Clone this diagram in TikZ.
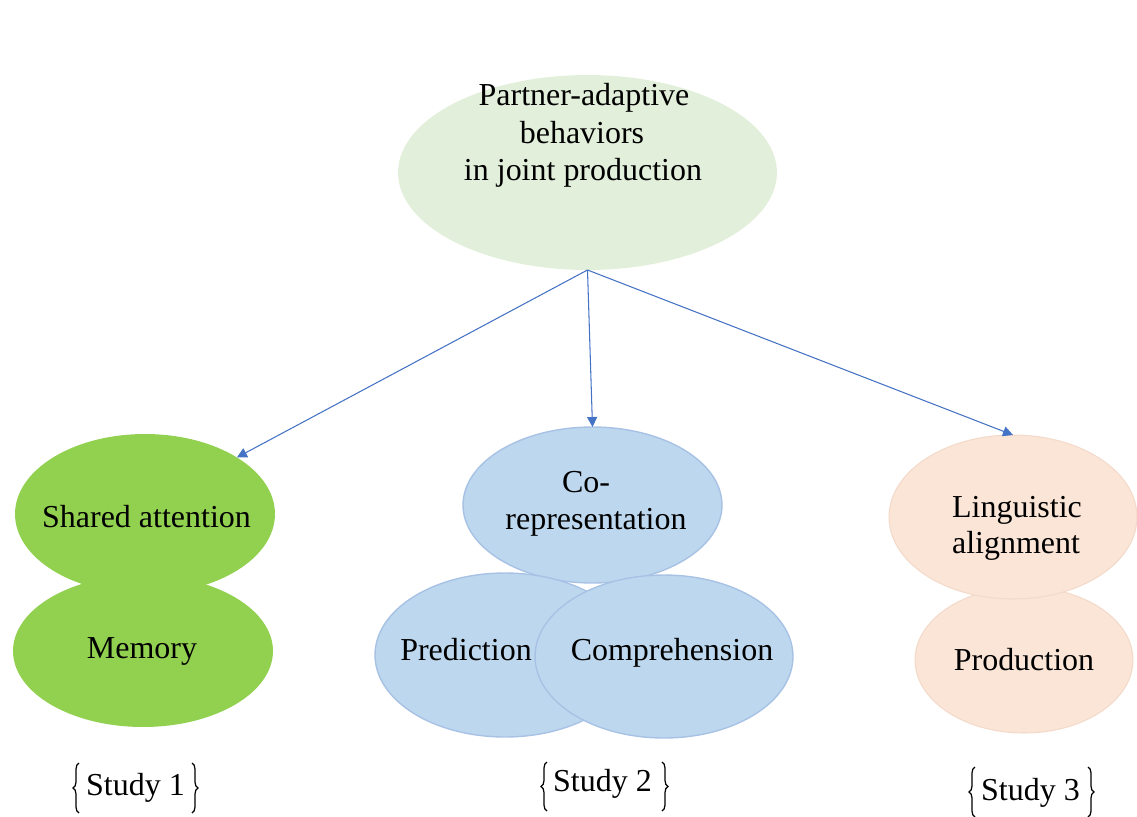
\documentclass[tikz,border=0pt]{standalone}
\usepackage{fontspec}
\setmainfont{Liberation Serif}
\usetikzlibrary{shapes.geometric,arrows.meta,decorations.pathreplacing}
\definecolor{topgreen}{HTML}{E2EFDA}
\definecolor{leafgreen}{HTML}{92D050}
\definecolor{skyblue}{HTML}{BDD7EE}
\definecolor{skyedge}{HTML}{A8C2E5}
\definecolor{peach}{HTML}{FBE5D6}
\definecolor{peachedge}{HTML}{F3DACA}
\definecolor{arrowblue}{HTML}{4472C4}
\begin{document}
\begin{tikzpicture}[x=0.02cm,y=-0.02cm,
  blob/.style={ellipse, inner sep=0pt, outer sep=0pt},
  greenblob/.style={blob, fill=leafgreen},
  blueblob/.style={blob, fill=skyblue, draw=skyedge, line width=0.8pt},
  peachblob/.style={blob, fill=peach, draw=peachedge, line width=0.6pt},
  lbl/.style={anchor=base, inner sep=0pt, font=\fontsize{18.2}{21.3}\selectfont},
  link/.style={draw=arrowblue, line width=0.6pt, -{Triangle[length=5.7pt,width=5.7pt]}},
  brc/.style={draw=black, line width=0.7pt, decorate, decoration={brace, amplitude=0.12cm}}]
\useasboundingbox (0,0) rectangle (1137,816);
% top
\node[blob, fill=topgreen, minimum width=7.58cm, minimum height=3.9cm] (top) at (587.5,172.5) {};
% study 1
\node[greenblob, minimum width=5.2cm, minimum height=3.04cm] (mem) at (143,651) {};
\node[greenblob, minimum width=5.2cm, minimum height=3.2cm] (sa) at (145,514) {};
% study 2
\node[blueblob, minimum width=5.18cm, minimum height=3.12cm] (co) at (592.5,505) {};
\node[blueblob, minimum width=5.2cm, minimum height=3.28cm] (pred) at (505,655) {};
\node[blueblob, minimum width=5.16cm, minimum height=3.26cm] (comp) at (664,656.5) {};
% study 3
\node[peachblob, minimum width=4.36cm, minimum height=2.92cm] (prod) at (1024,660) {};
\node[peachblob, minimum width=4.96cm, minimum height=3.28cm] (la) at (1013,517) {};
% labels
\node[lbl] (t1) at (584,105) {Partner-adaptive};
\node[lbl] (t2) at (582,143) {behaviors};
\node[lbl] (t3) at (583,180) {in joint production};
\node[lbl] (lsa) at (146.5,527) {Shared attention};
\node[lbl] (lmem) at (142,658) {Memory};
\node[lbl] (lco1) at (586,492) {Co-};
\node[lbl] (lco2) at (596,529) {representation};
\node[lbl] (lpred) at (466,660) {Prediction};
\node[lbl] (lcomp) at (672,660) {Comprehension};
\node[lbl] (lla1) at (1017,517) {Linguistic};
\node[lbl] (lla2) at (1016,553) {alignment};
\node[lbl] (lprod) at (1024,670) {Production};
% arrows
\draw[link] (top.south) -- (sa.north east);
\draw[link] (top.south) -- (co.north);
\draw[link] (top.south) -- (la.north);
% studies
\node[lbl] (s1) at (135.5,795) {Study 1};
\node[lbl] (s2) at (602.5,791) {Study 2};
\node[lbl] (s3) at (1030.5,800) {Study 3};
\coordinate (b1a) at (79,813); \coordinate (b1b) at (79,763);
\coordinate (b1c) at (192,763); \coordinate (b1d) at (192,813);
\coordinate (b2a) at (547,811); \coordinate (b2b) at (547,762);
\coordinate (b2c) at (662,762); \coordinate (b2d) at (662,811);
\coordinate (b3a) at (975,817); \coordinate (b3b) at (975,767);
\coordinate (b3c) at (1088,767); \coordinate (b3d) at (1088,817);
\draw[brc] (b1a) -- (b1b);
\draw[brc] (b1c) -- (b1d);
\draw[brc] (b2a) -- (b2b);
\draw[brc] (b2c) -- (b2d);
\draw[brc] (b3a) -- (b3b);
\draw[brc] (b3c) -- (b3d);
\end{tikzpicture}
\end{document}
